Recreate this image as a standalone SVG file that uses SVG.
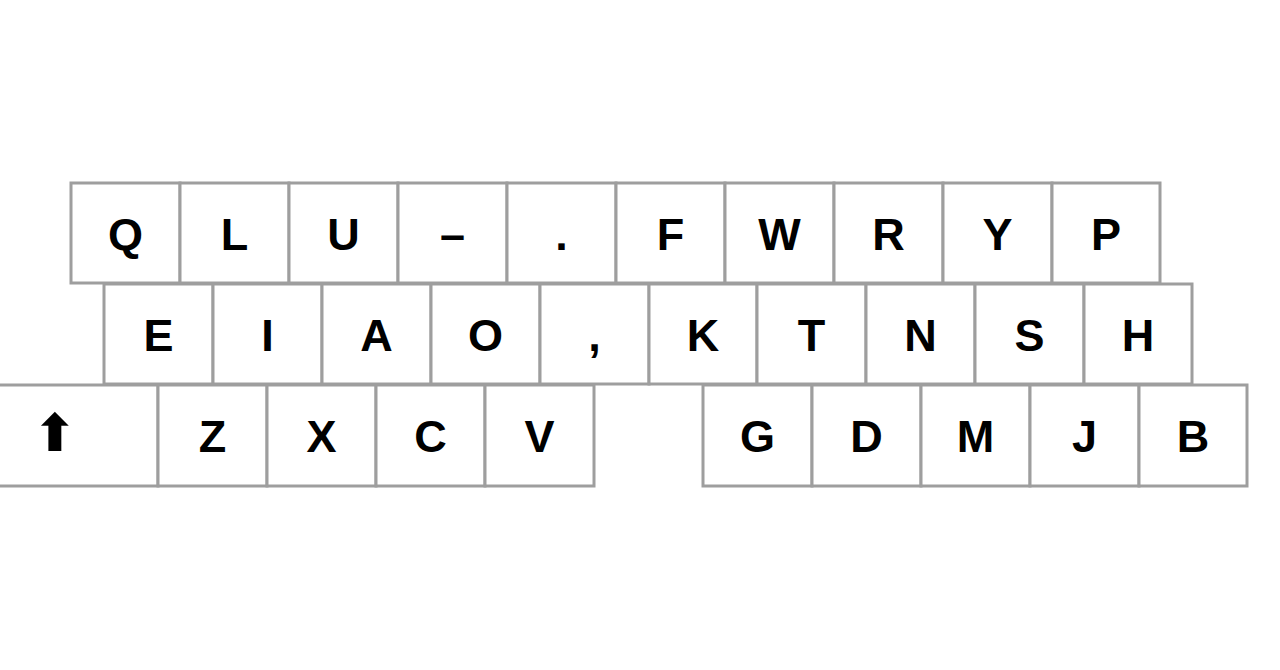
<svg xmlns="http://www.w3.org/2000/svg" width="1280" height="670" viewBox="0 0 1280 670">
<style>
.k{fill:#fff;stroke:#9e9e9e;stroke-width:3}
.t{font-family:"Liberation Sans",Arial,sans-serif;font-weight:bold;font-size:45px;fill:#000;text-anchor:middle}
.a{font-family:"DejaVu Sans",sans-serif;font-weight:bold;font-size:52px;fill:#000;text-anchor:middle}
</style>
<rect width="1280" height="670" fill="#fff"/>
<g id="row1">
<g id="key-Q"><rect class="k" x="71" y="183" width="109" height="100"/><text class="t" x="125.5" y="250">Q</text></g>
<g id="key-L"><rect class="k" x="180" y="183" width="109" height="100"/><text class="t" x="234.5" y="250">L</text></g>
<g id="key-U"><rect class="k" x="289" y="183" width="109" height="100"/><text class="t" x="343.5" y="250">U</text></g>
<g id="key-dash"><rect class="k" x="398" y="183" width="109" height="100"/><text class="t" x="452.5" y="250">–</text></g>
<g id="key-period"><rect class="k" x="507" y="183" width="109" height="100"/><text class="t" x="561.5" y="250">.</text></g>
<g id="key-F"><rect class="k" x="616" y="183" width="109" height="100"/><text class="t" x="670.5" y="250">F</text></g>
<g id="key-W"><rect class="k" x="725" y="183" width="109" height="100"/><text class="t" x="779.5" y="250">W</text></g>
<g id="key-R"><rect class="k" x="834" y="183" width="109" height="100"/><text class="t" x="888.5" y="250">R</text></g>
<g id="key-Y"><rect class="k" x="943" y="183" width="109" height="100"/><text class="t" x="997.5" y="250">Y</text></g>
<g id="key-P"><rect class="k" x="1052" y="183" width="108" height="100"/><text class="t" x="1106" y="250">P</text></g>
</g>
<g id="row2">
<g id="key-E"><rect class="k" x="104" y="284" width="109" height="100"/><text class="t" x="158.5" y="351">E</text></g>
<g id="key-I"><rect class="k" x="213" y="284" width="109" height="100"/><text class="t" x="267.5" y="351">I</text></g>
<g id="key-A"><rect class="k" x="322" y="284" width="109" height="100"/><text class="t" x="376.5" y="351">A</text></g>
<g id="key-O"><rect class="k" x="431" y="284" width="109" height="100"/><text class="t" x="485.5" y="351">O</text></g>
<g id="key-comma"><rect class="k" x="540" y="284" width="109" height="100"/><text class="t" x="594.5" y="351">,</text></g>
<g id="key-K"><rect class="k" x="649" y="284" width="108" height="100"/><text class="t" x="703" y="351">K</text></g>
<g id="key-T"><rect class="k" x="757" y="284" width="109" height="100"/><text class="t" x="811.5" y="351">T</text></g>
<g id="key-N"><rect class="k" x="866" y="284" width="109" height="100"/><text class="t" x="920.5" y="351">N</text></g>
<g id="key-S"><rect class="k" x="975" y="284" width="109" height="100"/><text class="t" x="1029.5" y="351">S</text></g>
<g id="key-H"><rect class="k" x="1084" y="284" width="108" height="100"/><text class="t" x="1138" y="351">H</text></g>
</g>
<g id="row3">
<g id="key-shift"><rect class="k" x="-2" y="385" width="160" height="101"/><text class="a" x="55" y="451">⬆</text></g>
<g id="key-Z"><rect class="k" x="158" y="385" width="109" height="101"/><text class="t" x="212.5" y="452">Z</text></g>
<g id="key-X"><rect class="k" x="267" y="385" width="109" height="101"/><text class="t" x="321.5" y="452">X</text></g>
<g id="key-C"><rect class="k" x="376" y="385" width="109" height="101"/><text class="t" x="430.5" y="452">C</text></g>
<g id="key-V"><rect class="k" x="485" y="385" width="109" height="101"/><text class="t" x="539.5" y="452">V</text></g>
<g id="key-G"><rect class="k" x="703" y="385" width="109" height="101"/><text class="t" x="757.5" y="452">G</text></g>
<g id="key-D"><rect class="k" x="812" y="385" width="109" height="101"/><text class="t" x="866.5" y="452">D</text></g>
<g id="key-M"><rect class="k" x="921" y="385" width="109" height="101"/><text class="t" x="975.5" y="452">M</text></g>
<g id="key-J"><rect class="k" x="1030" y="385" width="109" height="101"/><text class="t" x="1084.5" y="452">J</text></g>
<g id="key-B"><rect class="k" x="1139" y="385" width="108" height="101"/><text class="t" x="1193" y="452">B</text></g>
</g>
<g id="connectors"/>
</svg>
